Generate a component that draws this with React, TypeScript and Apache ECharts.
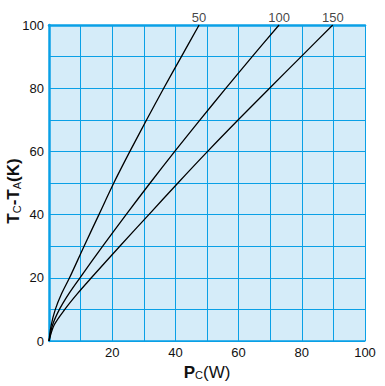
import React, { useEffect, useRef } from "react";
import * as echarts from "echarts";

// Curve data: [Pc (W), Tc-Ta (K)]
const curve50: [number, number][] = [
  [0, 0], [0.7, 5], [2.0, 10], [4.0, 15], [6.5, 20], [11.1, 30], [15.8, 40], [20.5, 50],
  [25.6, 60], [30.9, 70], [36.3, 80], [41.9, 90], [47.5, 100],
];
const curve100: [number, number][] = [
  [0, 0], [1.1, 5], [3.3, 10], [6.3, 15], [9.8, 20], [17.0, 30], [24.4, 40], [32.0, 50],
  [39.8, 60], [47.8, 70], [56.0, 80], [64.3, 90], [72.8, 100],
];
const curve150: [number, number][] = [
  [0, 0], [1.6, 5], [5.0, 10], [9.0, 15], [13.4, 20], [22.4, 30], [31.6, 40], [40.8, 50],
  [50.2, 60], [59.9, 70], [69.8, 80], [79.8, 90], [89.8, 100],
];
const curveLabels = ["50", "100", "150"];
const xTickLabels = [20, 40, 60, 80, 100];
const yTickLabels = [0, 20, 40, 60, 80, 100];

const GRID_BLUE = "#0aa0e6";
const BG_BLUE = "#d5ecf9";

export default function App() {
  const ref = useRef<HTMLDivElement>(null);
  useEffect(() => {
    if (!ref.current) return;
    const chart = echarts.init(ref.current, undefined, { renderer: "svg" });
    const curves = [curve50, curve100, curve150];
    const ends = curves.map((c, i) => ({ value: c[c.length - 1], name: curveLabels[i] }));
    const font = "Liberation Sans, Arial, sans-serif";
    const rich = {
      b: { fontSize: 17, fontWeight: "bold", fontFamily: font, fill: "#111", color: "#111", verticalAlign: "bottom", lineHeight: 18 },
      s: { fontSize: 11, fontFamily: font, fill: "#111", color: "#111", verticalAlign: "bottom", lineHeight: 18 },
      n: { fontSize: 17, fontFamily: font, fill: "#111", color: "#111", verticalAlign: "bottom", lineHeight: 18 },
      nb: { fontSize: 17, fontWeight: "bold", fontFamily: font, fill: "#111", color: "#111", verticalAlign: "bottom", lineHeight: 18 },
    };
    chart.setOption({
      animation: false,
      grid: {
        left: 49, right: 20, top: 25, bottom: 45,
        show: true, backgroundColor: BG_BLUE, borderWidth: 0,
        containLabel: false, outerBoundsMode: "none",
      },
      graphic: [
        {
          type: "text",
          x: 13,
          y: 191,
          rotation: Math.PI / 2,
          style: {
            text: "{b|T}{s|C}{b|-T}{s|A}{nb|(K)}",
            rich,
            align: "center",
            verticalAlign: "middle",
          },
        },
      ],
      xAxis: [
        {
          type: "value", min: 0, max: 100, interval: 10,
          axisLine: { show: true, lineStyle: { color: GRID_BLUE, width: 1.5 } },
          axisTick: { show: false },
          splitLine: { show: true, lineStyle: { color: GRID_BLUE, width: 1 } },
          axisLabel: {
            margin: 5, color: "#111", fontSize: 13, fontFamily: font,
            formatter: (v: number) => (xTickLabels.includes(v) ? String(v) : ""),
          },
          name: "{b|P}{s|C}{n|(W)}",
          nameLocation: "middle",
          nameGap: 20,
          nameTextStyle: { rich },
        },
        {
          type: "value", min: 0, max: 100, position: "top",
          axisLine: { show: true, lineStyle: { color: GRID_BLUE, width: 2.5 } },
          axisTick: { show: false }, axisLabel: { show: false }, splitLine: { show: false },
        },
      ],
      yAxis: {
        type: "value", min: 0, max: 100, interval: 10,
        axisLine: { show: true, lineStyle: { color: GRID_BLUE, width: 2.5 } },
        axisTick: { show: false },
        splitLine: { show: true, lineStyle: { color: GRID_BLUE, width: 1 } },
        axisLabel: {
          margin: 5, color: "#111", fontSize: 13, fontFamily: font,
          formatter: (v: number) => (yTickLabels.includes(v) ? String(v) : ""),
        },
      },
      series: [
        ...curves.map((c) => ({
          type: "line",
          data: c,
          smooth: 0.3,
          showSymbol: false,
          symbol: "none",
          lineStyle: { color: "#000", width: 1.3 },
          silent: true,
        })),
        {
          type: "scatter",
          data: ends,
          symbolSize: 1,
          itemStyle: { color: "rgba(0,0,0,0)" },
          label: {
            show: true, position: "top", distance: 1,
            formatter: (p: any) => p.name,
            color: "#111", fontSize: 13, fontFamily: font,
          },
          silent: true,
        },
      ],
    });
    return () => chart.dispose();
  }, []);
  return (
    <div
      ref={ref}
      style={{ position: "fixed", left: 0, top: 0, width: 385, height: 386, background: "#fff" }}
    />
  );
}
